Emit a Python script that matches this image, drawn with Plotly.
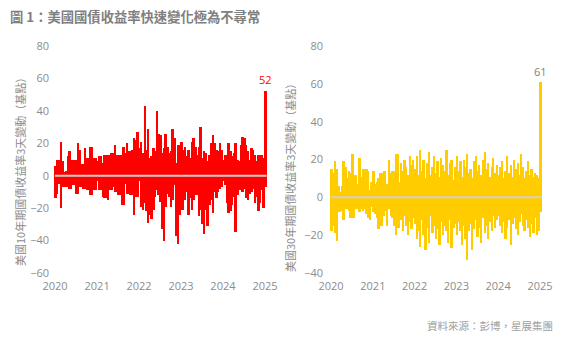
import pandas as pd
import plotly.graph_objects as go

# ---------------- data ----------------
title_text = "圖 1：美國國債收益率快速變化極為不尋常"
source_text = "資料來源：彭博，星展集團"
ytitle_10 = "美國10年期國債收益率3天變動（基點）"
ytitle_30 = "美國30年期國債收益率3天變動（基點）"
year_ticks = ["2020-01-01", "2021-01-01", "2022-01-01", "2023-01-01", "2024-01-01", "2025-01-01"]
year_labels = ["2020", "2021", "2022", "2023", "2024", "2025"]

# semi-monthly periods (period start dates)
periods = pd.date_range("2020-01-01", periods=121, freq="SMS") + pd.Timedelta(days=7)

# 10Y: largest rise / largest fall of 3-day change within each half-month (bp)
up_10y = [6, 10, 10, 21, 9, 2, 3, 12, 15, 10, 10, 10, 10, 20, 16, 7, 7, 17, 11, 11, 18, 18, 11, 11,
          9, 12, 12, 8, 13, 13, 13, 13, 14, 14, 19, 13, 13, 13, 13, 18, 14, 20, 15, 15, 16, 23, 22, 27,
          17, 21, 14, 43, 16, 29, 11, 12, 17, 15, 40, 26, 25, 14, 17, 26, 18, 14, 15, 29, 23, 8, 19, 19,
          21, 16, 18, 12, 16, 11, 21, 23, 18, 13, 18, 30, 11, 15, 14, 9, 13, 20, 25, 20, 16, 15, 20, 16,
          10, 13, 13, 20, 15, 12, 14, 20, 10, 9, 19, 24, 23, 19, 15, 10, 17, 16, 13, 9, 13, 13, 13, 11, 52]
down_10y = [-14, -11, -5, -20, -7, -7, -7, -7, -8, -8, -6, -6, -11, -11, -7, -7, -8, -8, -9, -9, -12, -12, -9, -9,
            -3, -9, -9, -13, -14, -14, -15, -9, -9, -7, -10, -10, -12, -12, -18, -18, -5, -11, -11, -12, -12, -24, -13, -13,
            -3, -19, -21, -17, -22, -29, -24, -27, -21, -13, -9, -12, -16, -33, -40, -19, -11, -13, -19, -15, -6, -37, -42, -24,
            -21, -21, -15, -10, -24, -14, -21, -15, -12, -12, -25, -21, -30, -36, -21, -31, -18, -15, -23, -10, -14, -10, -8, -7,
            -3, -6, -17, -23, -22, -18, -13, -35, -12, -9, -9, -10, -8, -14, -15, -11, -10, -8, -17, -13, -22, -17, -9, -20, -7]

# 30Y
up_30y = [15, 13, 19, 15, 6, 3, 6, 19, 16, 10, 14, 13, 23, 12, 12, 7, 21, 11, 15, 15, 15, 14, 4, 8,
          14, 7, 8, 10, 13, 13, 14, 14, 7, 20, 13, 14, 14, 23, 23, 8, 18, 14, 20, 16, 12, 22, 17, 20,
          15, 22, 12, 25, 14, 20, 10, 18, 24, 12, 16, 22, 13, 19, 11, 21, 17, 14, 25, 12, 18, 20, 9, 16,
          22, 14, 19, 11, 20, 16, 23, 13, 15, 10, 19, 22, 14, 17, 12, 20, 24, 15, 18, 11, 16, 21, 13, 17,
          12, 16, 19, 10, 14, 22, 13, 17, 11, 20, 15, 18, 12, 23, 16, 10, 14, 19, 12, 15, 11, 13, 12, 10, 61]
down_30y = [-18, -15, -19, -23, -8, -8, -7, -12, -6, -6, -7, -11, -11, -11, -6, -6, -8, -6, -7, -6, -9, -11, -12, -5,
            -8, -9, -11, -17, -15, -15, -10, -7, -15, -6, -10, -11, -15, -20, -16, -16, -12, -18, -10, -15, -20, -13, -17, -11,
            -14, -22, -18, -26, -12, -20, -28, -16, -24, -10, -19, -15, -22, -17, -25, -13, -20, -15, -18, -24, -12, -27, -16, -14,
            -20, -13, -18, -25, -15, -22, -33, -18, -14, -28, -17, -12, -21, -16, -24, -11, -19, -15, -22, -13, -18, -10, -16, -12,
            -10, -15, -19, -13, -22, -16, -12, -25, -14, -11, -17, -20, -13, -9, -15, -18, -12, -16, -21, -14, -19, -11, -20, -18, -8]

# ---------------- figure ----------------
W, H = 580, 360
OFF = 8  # page body margin offset to compensate
RED = "#FF0000"
YEL = "#FFCC00"
GREY_TXT = "#8C8C8C"
NUM_FONT = "Open Sans, DejaVu Sans, sans-serif"
CJK_FONT = "Noto Sans CJK TC, Noto Sans, sans-serif"
bar_w = 16 * 86400000


def fx(p):
    return (p - OFF) / W


def fy(p):
    return 1 - (p - OFF) / H


fig = go.Figure()
for xa, ya, up, dn, col in [("x", "y", up_10y, down_10y, RED), ("x2", "y2", up_30y, down_30y, YEL)]:
    fig.add_trace(go.Bar(x=periods, y=up, marker=dict(color=col, line=dict(width=0)),
                         width=bar_w, xaxis=xa, yaxis=ya, showlegend=False, hoverinfo="skip"))
    fig.add_trace(go.Bar(x=periods, y=dn, marker=dict(color=col, line=dict(width=0)),
                         width=bar_w, xaxis=xa, yaxis=ya, showlegend=False, hoverinfo="skip"))

y_dom = [fy(273), fy(46)]

common_x = dict(type="date", tickmode="array", tickvals=year_ticks, ticktext=year_labels,
                showgrid=False, zeroline=False, showline=False, ticks="", automargin=False,
                ticklabelstandoff=5,
                tickfont=dict(family=NUM_FONT, size=11, color=GREY_TXT))
common_y = dict(dtick=20, tick0=0, showgrid=False, zeroline=False, showline=False, ticks="",
                automargin=False,
                tickfont=dict(family=NUM_FONT, size=11, color=GREY_TXT), domain=y_dom)

fig.update_layout(
    width=W, height=H,
    margin=dict(l=0, r=0, t=0, b=0, pad=0, autoexpand=False),
    paper_bgcolor="white", plot_bgcolor="white",
    showlegend=False,
    barmode="relative", bargap=0,
    xaxis=dict(common_x, domain=[fx(50), fx(272)], anchor="y", range=["2019-11-18", "2025-03-03"]),
    yaxis=dict(common_y, anchor="x", range=[-60, 80]),
    xaxis2=dict(common_x, domain=[fx(324), fx(548)], anchor="y2", range=["2019-11-01", "2025-03-12"]),
    yaxis2=dict(common_y, anchor="x2", range=[-40, 80]),
)

# zero lines drawn above the bars
for xr, yr in [("x", "y"), ("x2", "y2")]:
    fig.add_shape(type="line", xref=xr, yref=yr, x0=periods[0] - pd.Timedelta(days=8),
                  x1=periods[-1] + pd.Timedelta(days=8), y0=0, y1=0,
                  line=dict(color="#D0D0D0", width=2), layer="above")

# peak labels
fig.add_annotation(x=periods[-1], y=up_10y[-1], xref="x", yref="y", text=str(up_10y[-1]),
                   showarrow=False, yshift=12, font=dict(family=NUM_FONT, size=11, color=RED))
fig.add_annotation(x=periods[-1], y=up_30y[-1], xref="x2", yref="y2", text=str(up_30y[-1]),
                   showarrow=False, yshift=10, font=dict(family=NUM_FONT, size=11, color="#7F7F7F"))

# title, source and axis titles
fig.add_annotation(x=fx(8), y=fy(16), xref="paper", yref="paper", xanchor="left", yanchor="middle",
                   text="<b>" + title_text + "</b>", showarrow=False,
                   font=dict(family=CJK_FONT, size=13.3, color="#7F7F7F"))
fig.add_annotation(x=fx(555), y=fy(325), xref="paper", yref="paper", xanchor="right", yanchor="middle",
                   text=source_text, showarrow=False,
                   font=dict(family=CJK_FONT, size=10.5, color="#A0A0A0"))
fig.add_annotation(x=fx(20), y=fy(169), xref="paper", yref="paper", xanchor="center", yanchor="middle",
                   text=ytitle_10, textangle=-90, showarrow=False,
                   font=dict(family=CJK_FONT, size=11, color=GREY_TXT))
fig.add_annotation(x=fx(290), y=fy(175), xref="paper", yref="paper", xanchor="center", yanchor="middle",
                   text=ytitle_30, textangle=-90, showarrow=False,
                   font=dict(family=CJK_FONT, size=11, color=GREY_TXT))

fig.write_html("out.html")
